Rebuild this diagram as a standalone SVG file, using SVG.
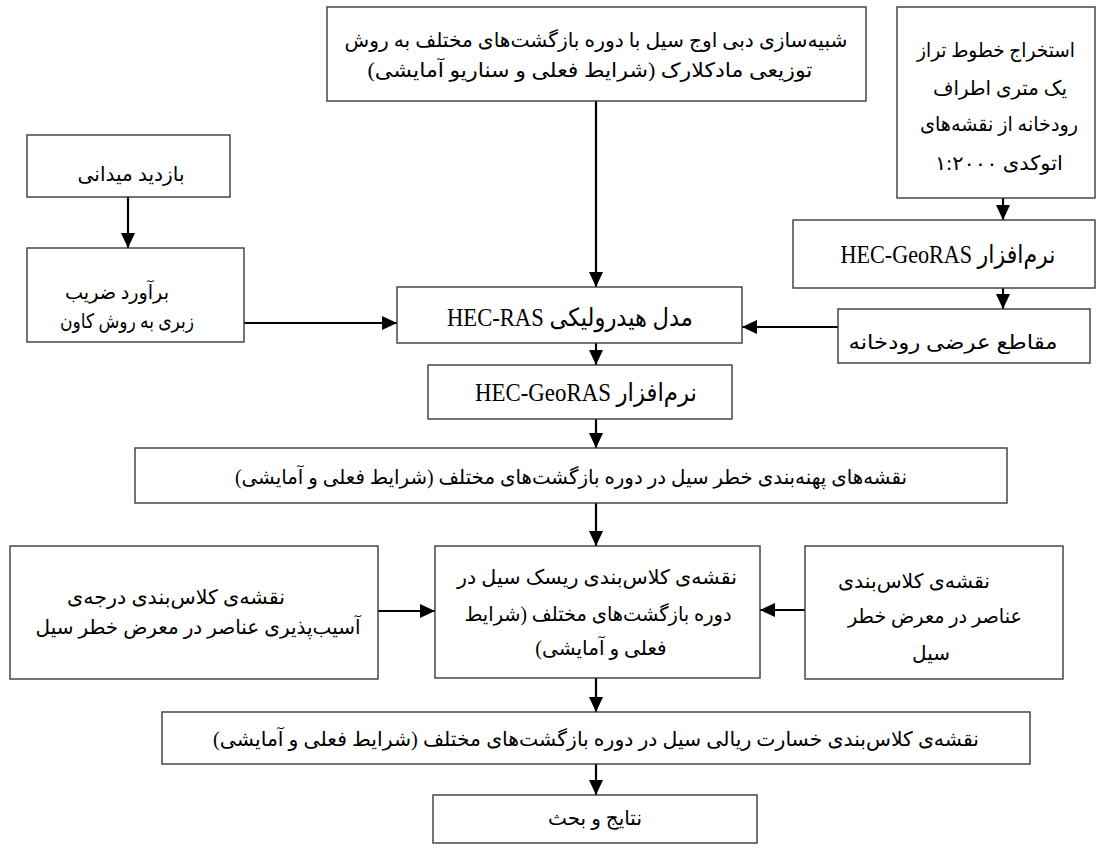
<svg xmlns="http://www.w3.org/2000/svg" width="1102" height="852" viewBox="0 0 1102 852">
<style>
.box{fill:#fff;stroke:#3a3a3a;stroke-width:1.4}
.t{font-family:"Liberation Serif","DejaVu Sans",serif;font-size:20px;fill:#000;direction:rtl;text-anchor:middle}
.h{font-size:25px}
.c{stroke:#000;stroke-width:2.2;fill:none;marker-end:url(#ah)}
</style>
<defs>
<marker id="ah" markerUnits="userSpaceOnUse" markerWidth="16" markerHeight="14" refX="15" refY="7" orient="auto">
<path d="M0,0 L15,7 L0,14 z" fill="#000"/>
</marker>
</defs>
<rect width="1102" height="852" fill="#fff"/>
<g id="connectors">
<line class="c" x1="1003" y1="198" x2="1003" y2="220"/>
<line class="c" x1="1003" y1="288" x2="1003" y2="309"/>
<line class="c" x1="838" y1="327" x2="742" y2="327"/>
<line class="c" x1="128" y1="197" x2="128" y2="248"/>
<line class="c" x1="244" y1="323" x2="397" y2="323"/>
<line class="c" x1="596" y1="101" x2="596" y2="287"/>
<line class="c" x1="596" y1="343" x2="596" y2="365"/>
<line class="c" x1="596" y1="419" x2="596" y2="448"/>
<line class="c" x1="596" y1="503" x2="596" y2="546"/>
<line class="c" x1="378" y1="611" x2="435" y2="611"/>
<line class="c" x1="805" y1="610" x2="760" y2="610"/>
<line class="c" x1="596" y1="678" x2="596" y2="712"/>
<line class="c" x1="596" y1="764" x2="596" y2="795"/>
</g>
<g id="n-simulation">
<rect class="box" x="327" y="7" width="539" height="94"/>
<text class="t" x="596" y="47" textLength="503" lengthAdjust="spacingAndGlyphs">شبیه‌سازی دبی اوج سیل با دوره بازگشت‌های مختلف به روش</text>
<text class="t" x="590" y="77" textLength="445" lengthAdjust="spacingAndGlyphs">توزیعی مادکلارک (شرایط فعلی و سناریو آمایشی)</text>
</g>
<g id="n-contours">
<rect class="box" x="897" y="7" width="198" height="191"/>
<text class="t" x="996" y="57" textLength="158" lengthAdjust="spacingAndGlyphs">استخراج خطوط تراز</text>
<text class="t" x="1000" y="95" textLength="134" lengthAdjust="spacingAndGlyphs">یک متری اطراف</text>
<text class="t" x="999" y="131" textLength="158" lengthAdjust="spacingAndGlyphs">رودخانه از نقشه‌های</text>
<text class="t" x="999" y="170" textLength="128" lengthAdjust="spacingAndGlyphs">اتوکدی ۱:۲۰۰۰</text>
</g>
<g id="n-georas-right">
<rect class="box" x="793" y="220" width="302" height="68"/>
<text class="t h" x="948" y="263" textLength="215" lengthAdjust="spacingAndGlyphs">نرم‌افزار HEC-GeoRAS</text>
</g>
<g id="n-sections">
<rect class="box" x="838" y="309" width="252" height="54"/>
<text class="t" x="953" y="349" textLength="209" lengthAdjust="spacingAndGlyphs">مقاطع عرضی رودخانه</text>
</g>
<g id="n-visit">
<rect class="box" x="27" y="135" width="203" height="62"/>
<text class="t" x="131" y="181" textLength="107" lengthAdjust="spacingAndGlyphs">بازدید میدانی</text>
</g>
<g id="n-roughness">
<rect class="box" x="27" y="248" width="217" height="94"/>
<text class="t" x="117" y="299" textLength="104" lengthAdjust="spacingAndGlyphs">برآورد ضریب</text>
<text class="t" x="127" y="328" textLength="134" lengthAdjust="spacingAndGlyphs">زبری به روش کاون</text>
</g>
<g id="n-hecras">
<rect class="box" x="397" y="287" width="345" height="56"/>
<text class="t h" x="570" y="326" textLength="246" lengthAdjust="spacingAndGlyphs">مدل هیدرولیکی HEC-RAS</text>
</g>
<g id="n-georas-center">
<rect class="box" x="428" y="365" width="304" height="54"/>
<text class="t h" x="586" y="401" textLength="222" lengthAdjust="spacingAndGlyphs">نرم‌افزار HEC-GeoRAS</text>
</g>
<g id="n-hazard">
<rect class="box" x="135" y="448" width="872" height="55"/>
<text class="t" x="571" y="484" textLength="672" lengthAdjust="spacingAndGlyphs">نقشه‌های پهنه‌بندی خطر سیل در دوره بازگشت‌های مختلف (شرایط فعلی و آمایشی)</text>
</g>
<g id="n-vulnerability">
<rect class="box" x="10" y="546" width="368" height="133"/>
<text class="t" x="176" y="604" textLength="218" lengthAdjust="spacingAndGlyphs">نقشه‌ی کلاس‌بندی درجه‌ی</text>
<text class="t" x="198" y="634" textLength="325" lengthAdjust="spacingAndGlyphs">آسیب‌پذیری عناصر در معرض خطر سیل</text>
</g>
<g id="n-risk">
<rect class="box" x="435" y="546" width="325" height="132"/>
<text class="t" x="597" y="584" textLength="280" lengthAdjust="spacingAndGlyphs">نقشه‌ی کلاس‌بندی ریسک سیل در</text>
<text class="t" x="598" y="621" textLength="267" lengthAdjust="spacingAndGlyphs">دوره بازگشت‌های مختلف (شرایط</text>
<text class="t" x="601" y="655">فعلی و آمایشی)</text>
</g>
<g id="n-elements">
<rect class="box" x="805" y="546" width="258" height="133"/>
<text class="t" x="914" y="588" textLength="152" lengthAdjust="spacingAndGlyphs">نقشه‌ی کلاس‌بندی</text>
<text class="t" x="935" y="623" textLength="174" lengthAdjust="spacingAndGlyphs">عناصر در معرض خطر</text>
<text class="t" x="931" y="660">سیل</text>
</g>
<g id="n-damage">
<rect class="box" x="162" y="712" width="868" height="52"/>
<text class="t" x="596" y="746" textLength="766" lengthAdjust="spacingAndGlyphs">نقشه‌ی کلاس‌بندی خسارت ریالی سیل در دوره بازگشت‌های مختلف (شرایط فعلی و آمایشی)</text>
</g>
<g id="n-results">
<rect class="box" x="433" y="795" width="324" height="48"/>
<text class="t" x="595" y="825">نتایج و بحث</text>
</g>
</svg>
